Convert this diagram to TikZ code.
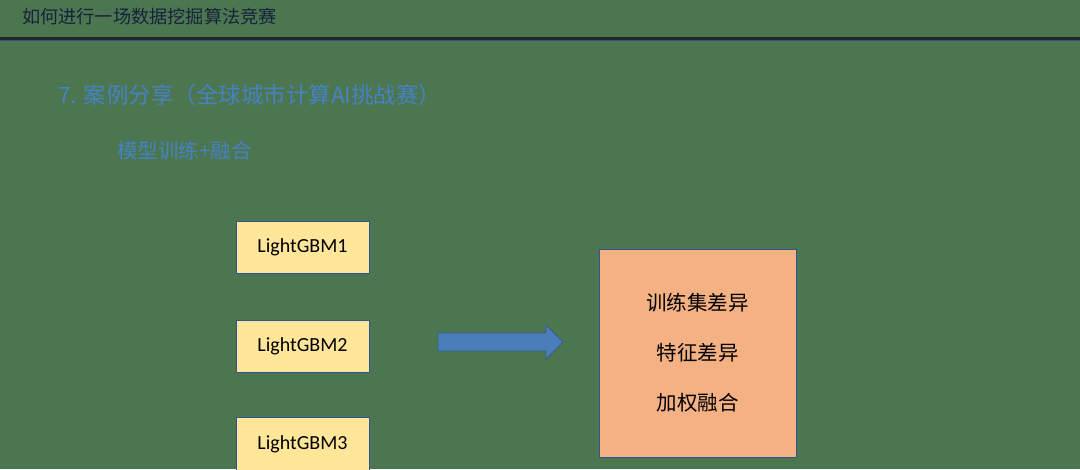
\documentclass[tikz,border=0pt]{standalone}
\usepackage{fontspec}
\setmainfont{Carlito}
\newfontfamily\cjk{Noto Sans CJK SC}
\definecolor{bggreen}{RGB}{75,118,80}
\definecolor{titlenavy}{RGB}{24,34,60}
\definecolor{subblue}{RGB}{70,130,196}
\definecolor{boxyellow}{RGB}{255,230,153}
\definecolor{boxsalmon}{RGB}{244,177,131}
\definecolor{edgeblue}{RGB}{47,85,151}
\definecolor{arrowfill}{RGB}{74,126,187}
\definecolor{arrowedge}{RGB}{56,93,138}
\begin{document}
\begin{tikzpicture}[x=1pt,y=-1pt,
  gbm/.style={draw=edgeblue,line width=1pt,fill=boxyellow,minimum width=133pt,minimum height=52pt,inner sep=0pt,font=\fontsize{20}{24}\selectfont,text=black},
  bigbox/.style={draw=edgeblue,line width=1pt,fill=boxsalmon,minimum width=197pt,minimum height=208pt,inner sep=0pt},
  inner/.style={font=\cjk\fontsize{20.5}{24}\selectfont,text=black,inner sep=0pt}]
\useasboundingbox[fill=bggreen] (0,0) rectangle (1080,469);
% header
\node[anchor=west,inner sep=0pt,text=titlenavy,font=\cjk\fontsize{18.2}{21}\selectfont] (title) at (22,17) {如何进行一场数据挖掘算法竞赛};
\draw[line width=3pt,color=black!85] (0,38) -- (1080,38);
\draw[line width=0.8pt,color=edgeblue] (0,40.2) -- (1080,40.2);
% headings
\node[anchor=west,inner sep=0pt,text=subblue,font=\cjk\fontsize{22.5}{26}\selectfont] (sec) at (58,95) {7. 案例分享（全球城市计算AI挑战赛）};
\node[anchor=west,inner sep=0pt,text=subblue,font=\cjk\fontsize{20.5}{24}\selectfont] (sub) at (117,151) {模型训练+融合};
% boxes
\node[gbm] (g1) at (302.5,247) {LightGBM1};
\node[gbm] (g2) at (302.5,346) {LightGBM2};
\node[gbm,minimum height=54pt] (g3) at (302.5,444) {\raisebox{1pt}{LightGBM3}};
\node[bigbox] (big) at (697.5,353) {};
\node[inner] (t1) at (697.5,303) {训练集差异};
\node[inner] (t2) at (697.5,353) {特征差异};
\node[inner] (t3) at (697.5,403) {加权融合};
% arrow
\draw[fill=arrowfill,draw=arrowedge,line width=0.8pt,line join=miter]
  (438,333) -- (546,333) -- (546,325) -- (563,342) -- (546,359) -- (546,351) -- (438,351) -- cycle;
\end{tikzpicture}
\end{document}
